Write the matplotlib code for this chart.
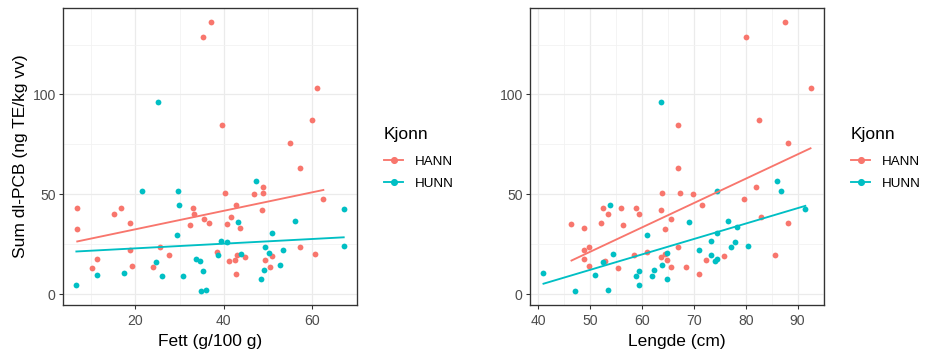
import numpy as np
import matplotlib
matplotlib.use("Agg")
import matplotlib.pyplot as plt
from matplotlib.lines import Line2D
from matplotlib.ticker import MultipleLocator

plt.rcParams['font.family'] = ['Liberation Sans', 'DejaVu Sans']

# ---- data ----
# HANN (male)
hann_fett = [6.9, 6.9, 10.3, 11.4, 15.3, 16.8, 18.9, 18.9, 19.3, 24.1, 25.6, 27.6,
             32.4, 33.1, 33.3, 35.6, 36.7, 38.5, 40.3, 40.8, 41.2, 41.7, 42.6, 42.8,
             42.8, 43.1, 43.7, 44.9, 46.9, 48.7, 48.9, 48.9, 49.4, 50.5, 51.0, 57.3,
             60.7, 62.5, 35.4, 37.2, 39.7, 55.0, 57.3, 60.0, 61.1]
hann_lengde = [52.4, 64.5, 55.4, 48.9, 53.5, 56.0, 52.0, 48.9, 49.8, 65.5, 49.8, 58.5,
               56.4, 58.9, 59.5, 65.5, 88.1, 61.0, 63.9, 46.4, 52.9, 83.0, 64.9, 71.5,
               70.9, 85.6, 48.9, 63.6, 69.9, 63.6, 67.4, 81.9, 72.4, 68.4, 75.9, 67.0,
               64.5, 79.6, 80.0, 87.5, 67.0, 88.1, 67.0, 82.5, 92.5]
hann_pcb = [43.3, 32.8, 12.8, 17.4, 40.3, 43.3, 35.8, 22.3, 13.8, 13.3, 23.8, 19.8,
            34.8, 43.3, 40.3, 37.8, 35.8, 21.3, 50.8, 35.3, 16.3, 38.8, 16.8, 44.8,
            9.8, 19.8, 33.3, 18.3, 50.3, 42.3, 50.8, 53.8, 16.8, 13.3, 18.8, 23.8,
            20.3, 47.8, 129.0, 136.5, 84.5, 75.5, 63.0, 87.0, 103.0]

# HUNN (female)
hunn_fett = [6.7, 11.4, 17.5, 21.6, 29.7, 24.7, 26.1, 30.8, 29.5, 29.9, 33.8, 34.7,
             34.9, 35.4, 36.0, 38.8, 39.4, 40.8, 43.3, 44.0, 47.3, 48.5, 49.1, 49.4,
             50.3, 51.0, 52.8, 53.3, 56.2, 67.1, 67.1, 25.2, np.nan]
hunn_lengde = [59.5, 51.0, 41.0, 74.5, 86.9, 52.4, 58.9, 62.0, 61.0, 53.9, 74.5, 74.0,
               47.0, 59.5, 53.5, 73.4, 73.4, 78.0, 69.0, 54.5, 86.0, 64.9, 62.4, 77.1,
               64.9, 74.5, 63.9, 70.9, 76.5, 91.5, 80.5, 63.6, 78.4]
hunn_pcb = [4.3, 9.3, 10.3, 51.8, 51.8, 15.8, 8.8, 8.8, 29.8, 44.8, 17.4, 16.3,
            1.3, 11.3, 1.8, 19.8, 26.8, 26.3, 36.3, 20.3, 56.8, 7.3, 11.8, 23.8,
            20.8, 30.8, 14.3, 22.3, 36.8, 42.8, 24.3, 96.0, 33.8]

groups = ["HANN", "HUNN"]
colors = {"HANN": "#F8766D", "HUNN": "#00BFC4"}
data = {
    "HANN": (np.array(hann_fett), np.array(hann_lengde), np.array(hann_pcb)),
    "HUNN": (np.array(hunn_fett), np.array(hunn_lengde), np.array(hunn_pcb)),
}

W, H = 935, 359
fig = plt.figure(figsize=(W / 96, H / 96), dpi=96)

def px_axes(x0, x1, y0, y1):
    return fig.add_axes([x0 / W, 1 - y1 / H, (x1 - x0) / W, (y1 - y0) / H])

axL = px_axes(63, 357, 8, 305)
axR = px_axes(530, 824, 8, 305)

def style(ax, xmaj, xmin):
    ax.set_facecolor("white")
    for s in ax.spines.values():
        s.set_color("#333333")
        s.set_linewidth(1.0)
    ax.xaxis.set_major_locator(MultipleLocator(xmaj))
    ax.xaxis.set_minor_locator(MultipleLocator(xmin))
    ax.yaxis.set_major_locator(MultipleLocator(50))
    ax.yaxis.set_minor_locator(MultipleLocator(25))
    ax.grid(which="major", color="#EBEBEB", linewidth=0.9)
    ax.grid(which="minor", color="#F2F2F2", linewidth=0.6)
    ax.set_axisbelow(True)
    ax.tick_params(which="major", length=3, width=0.8, color="#333333",
                   labelsize=10.5, labelcolor="#4D4D4D", pad=2.5)
    ax.tick_params(axis="x", which="major", pad=4)
    ax.tick_params(which="minor", length=0)

def draw(ax, idx):
    for g in groups:
        x = data[g][idx]
        y = data[g][2]
        m = ~np.isnan(x)
        x, y = x[m], y[m]
        ax.scatter(x, y, s=19, color=colors[g], zorder=3, linewidths=0)
        k, b = np.polyfit(x, y, 1)
        xs = np.array([x.min(), x.max()])
        ax.plot(xs, k * xs + b, color=colors[g], linewidth=1.4, zorder=4)

draw(axL, 0)
draw(axR, 1)
style(axL, 20, 10)
style(axR, 10, 5)

axL.set_xlim(3.68, 70.1)
axR.set_xlim(38.4, 95.1)
for ax in (axL, axR):
    ax.set_ylim(-5.5, 143.3)

axL.set_xlabel("Fett (g/100 g)", fontsize=13, labelpad=4.5)
axR.set_xlabel("Lengde (cm)", fontsize=13, labelpad=4.5)
axL.set_ylabel("Sum dl-PCB (ng TE/kg vv)", fontsize=13, labelpad=3)

def legend(ax, xpx):
    handles = [Line2D([0], [0], color=colors[g], marker="o", markersize=4.3,
                      linewidth=1.4) for g in groups]
    lg = ax.legend(handles, groups, title="Kjonn", loc="upper left",
                   bbox_to_anchor=(xpx / W, 1 - 127 / H),
                   bbox_transform=fig.transFigure, frameon=False,
                   fontsize=10, title_fontsize=13, handlelength=1.45,
                   handletextpad=0.9, labelspacing=0.75, alignment="left",
                   borderaxespad=0, borderpad=0)
    lg._legend_box.sep = 10
    return lg

legend(axL, 384)
legend(axR, 851)

fig.savefig("out.png", dpi=96, facecolor="white")
